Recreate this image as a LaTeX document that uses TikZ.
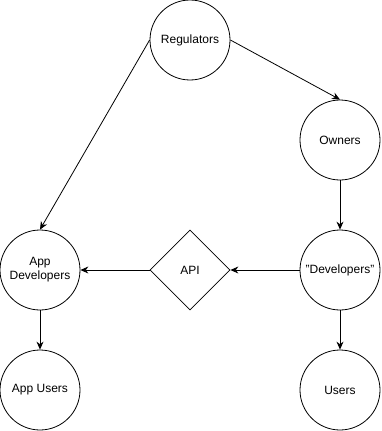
\documentclass[tikz,border=0pt]{standalone}
\usepackage{fontspec}
\setmainfont{Liberation Sans}
\usetikzlibrary{positioning, shapes.geometric, arrows.meta}

\tikzset{
  party/.style={draw, circle, line width=0.8pt, minimum size=80pt, inner sep=0pt,
    align=center, font=\fontsize{12}{14}\selectfont},
  gate/.style={draw, diamond, line width=0.8pt, minimum width=80pt, minimum height=80pt,
    inner sep=0pt, aspect=1, font=\fontsize{12}{14}\selectfont},
  flow/.style={-{Stealth[length=8pt,width=7pt]}, line width=0.8pt}
}

\begin{document}
\begin{tikzpicture}[x=1pt, y=-1pt]
  \useasboundingbox (0,0) rectangle (381,431);
  % top
  \node[party] (reg) at (190,40) {Regulators};
  % right column
  \node[party] (own) at (340,140) {Owners};
  \node[party] (dev) at (340,270) {"Developers"};
  \node[party] (users) at (340,390) {Users};
  % left column
  \node[party] (appdev) at (40,270) {App\\Developers};
  \node[party] (appusers) at (40,390) {App Users};
  \node[gate] (api) at (190,270) {API};

  \draw[flow] (reg.east) -- (own.north);
  \draw[flow] (reg.west) -- (appdev.north);
  \draw[flow] (own) -- (dev);
  \draw[flow] (dev) -- (users);
  \draw[flow] (dev) -- (api);
  \draw[flow] (api) -- (appdev);
  \draw[flow] (appdev) -- (appusers);
\end{tikzpicture}
\end{document}
